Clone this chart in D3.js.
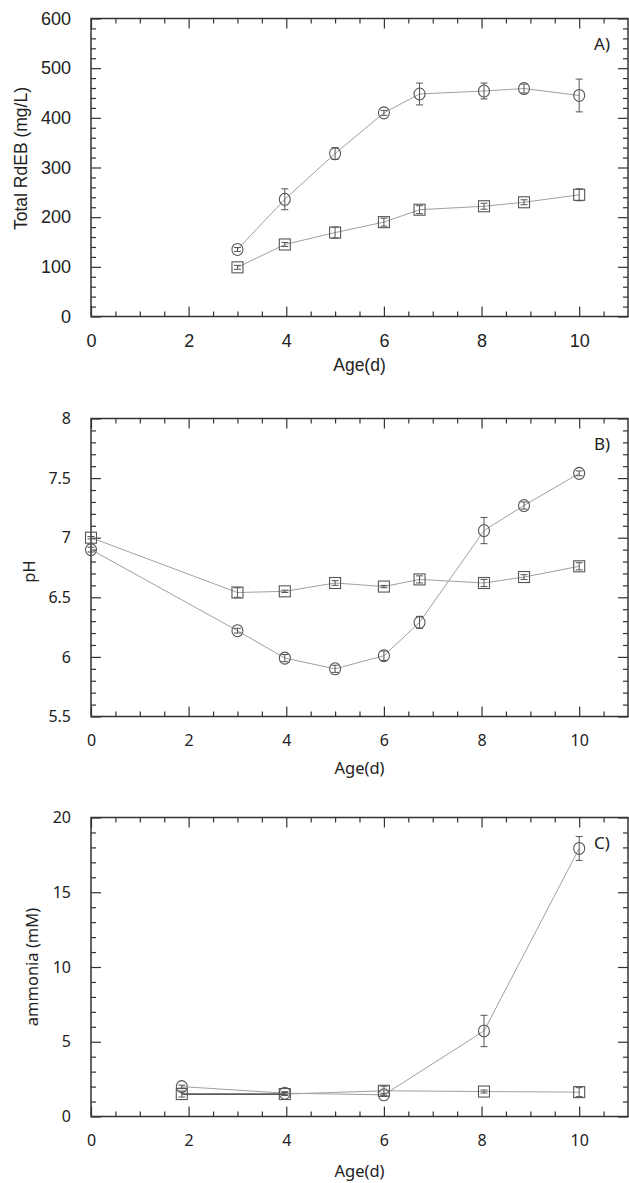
<!DOCTYPE html>
<html>
<head>
<meta charset="utf-8">
<script src="https://cdn.jsdelivr.net/npm/d3@7"></script>
<style>
  html, body { margin: 0; padding: 0; background: #fff; }
  svg { display: block; }
</style>
</head>
<body>
<div id="chart"></div>
<script>
// ---------------- DATA ----------------
// Panel A: Total RdEB (mg/L) vs Age(d)
const agesA = [3, 3.97, 5, 6, 6.73, 8.05, 8.87, 10];
const rdebCircle = [135, 236, 328, 410, 448, 454, 459, 445];
const rdebCircleErr = [4, 21, 12, 5, 22, 16, 9, 33];
const rdebSquare = [99, 145, 169, 190, 215, 222, 230, 245];
const rdebSquareErr = [4, 4, 11, 8, 8, 6, 5, 12];

// Panel B: pH vs Age(d)
const agesB = [0, 3, 3.97, 5, 6, 6.73, 8.05, 8.87, 10];
const phCircle = [6.90, 6.22, 5.99, 5.90, 6.01, 6.29, 7.06, 7.27, 7.54];
const phCircleErr = [0.02, 0.02, 0.03, 0.03, 0.04, 0.05, 0.11, 0.03, 0.02];
const phSquare = [7.00, 6.54, 6.55, 6.62, 6.59, 6.65, 6.62, 6.67, 6.76];
const phSquareErr = [0.01, 0.04, 0.01, 0.02, 0.01, 0.03, 0.03, 0.02, 0.03];

// Panel C: ammonia (mM) vs Age(d)
const agesC = [1.86, 3.97, 6, 8.05, 10];
const nh3Circle = [2.0, 1.56, 1.45, 5.72, 17.93];
const nh3CircleErr = [0.1, 0.1, 0.1, 1.05, 0.8];
const nh3Square = [1.5, 1.5, 1.72, 1.67, 1.63];
const nh3SquareErr = [0.2, 0.1, 0.3, 0.1, 0.3];

// Axes / tick labels
const xMajorTicks = [0, 2, 4, 6, 8, 10];
const yTicksA = [0, 100, 200, 300, 400, 500, 600];
const yTicksB = [5.5, 6, 6.5, 7, 7.5, 8];
const yTicksC = [0, 5, 10, 15, 20];
const panelLetters = ["A)", "B)", "C)"];
const yTitles = ["Total RdEB (mg/L)", "pH", "ammonia (mM)"];
const xTitle = "Age(d)";

// ---------------- LAYOUT ----------------
const W = 629, H = 1183;
const left = 91, right = 628;
const panels = [
  { top: 18.5, bottom: 316.5, yDomain: [0, 600], yMajor: yTicksA, yMinorStep: 20,
    ages: agesA, circ: rdebCircle, circErr: rdebCircleErr, sq: rdebSquare, sqErr: rdebSquareErr,
    font: "'Liberation Sans', Arial, sans-serif", tickFs: 18, titleFs: 17.5,
    yTitleX: 21, yTitleYOff: -9, xTitleOff: 48, darkSquareUntil: null },
  { top: 418.5, bottom: 716.5, yDomain: [5.5, 8], yMajor: yTicksB, yMinorStep: 0.1,
    ages: agesB, circ: phCircle, circErr: phCircleErr, sq: phSquare, sqErr: phSquareErr,
    font: "'Noto Sans', 'Open Sans', sans-serif", tickFs: 16, titleFs: 16.5,
    yTitleX: 28, yTitleYOff: 4, xTitleOff: 51, darkSquareUntil: null },
  { top: 817.5, bottom: 1116.5, yDomain: [0, 20], yMajor: yTicksC, yMinorStep: 1,
    ages: agesC, circ: nh3Circle, circErr: nh3CircleErr, sq: nh3Square, sqErr: nh3SquareErr,
    font: "'Noto Sans', 'Open Sans', sans-serif", tickFs: 16, titleFs: 16.5,
    yTitleX: 31, yTitleYOff: 0, xTitleOff: 54, darkSquareUntil: 4 }
];

const axisColor = "#333";
const markColor = "#555";
const lineColor = "#a0a0a0";

const svg = d3.select("#chart").append("svg")
  .attr("width", W).attr("height", H)
  .attr("viewBox", `0 0 ${W} ${H}`);

function range(a, b, step) {
  const out = [];
  const n = Math.round((b - a) / step);
  for (let i = 0; i <= n; i++) out.push(+(a + i * step).toFixed(6));
  return out;
}

panels.forEach((p, pi) => {
  const g = svg.append("g");
  const x = d3.scaleLinear().domain([0, 11]).range([left, right]);
  const y = d3.scaleLinear().domain(p.yDomain).range([p.bottom, p.top]);

  const xMinor = range(0, 10.5, 0.5).filter(v => !xMajorTicks.includes(v));
  const yMinor = range(p.yDomain[0], p.yDomain[1], p.yMinorStep)
    .filter(v => !p.yMajor.some(m => Math.abs(m - v) < 1e-6));

  function styleAxis(sel, labels) {
    sel.select(".domain").remove();
    sel.selectAll(".tick line").attr("stroke", axisColor).attr("stroke-width", 1.2);
    sel.selectAll(".tick text")
      .attr("fill", "#222")
      .style("font-family", p.font)
      .style("font-size", p.tickFs + "px");
    if (!labels) sel.selectAll(".tick text").remove();
  }

  // bottom axis
  g.append("g").attr("transform", `translate(0,${p.bottom})`)
    .call(d3.axisBottom(x).tickValues(xMajorTicks).tickSize(-10).tickPadding(18).tickFormat(d3.format("d")))
    .call(s => styleAxis(s, true));
  g.append("g").attr("transform", `translate(0,${p.bottom})`)
    .call(d3.axisBottom(x).tickValues(xMinor).tickSize(-5).tickFormat(""))
    .call(s => styleAxis(s, false));
  // top axis
  g.append("g").attr("transform", `translate(0,${p.top})`)
    .call(d3.axisTop(x).tickValues(xMajorTicks).tickSize(-10))
    .call(s => styleAxis(s, false));
  g.append("g").attr("transform", `translate(0,${p.top})`)
    .call(d3.axisTop(x).tickValues(xMinor).tickSize(-5))
    .call(s => styleAxis(s, false));
  // left axis
  const fmt = pi === 1 ? (d => d3.format("")(d)) : d3.format("d");
  g.append("g").attr("transform", `translate(${left},0)`)
    .call(d3.axisLeft(y).tickValues(p.yMajor).tickSize(-10).tickPadding(20).tickFormat(fmt))
    .call(s => styleAxis(s, true));
  g.append("g").attr("transform", `translate(${left},0)`)
    .call(d3.axisLeft(y).tickValues(yMinor).tickSize(-5))
    .call(s => styleAxis(s, false));
  // right axis
  g.append("g").attr("transform", `translate(${right},0)`)
    .call(d3.axisRight(y).tickValues(p.yMajor).tickSize(-10))
    .call(s => styleAxis(s, false));
  g.append("g").attr("transform", `translate(${right},0)`)
    .call(d3.axisRight(y).tickValues(yMinor).tickSize(-5))
    .call(s => styleAxis(s, false));

  // frame
  g.append("rect")
    .attr("x", left).attr("y", p.top)
    .attr("width", right - left).attr("height", p.bottom - p.top)
    .attr("fill", "none").attr("stroke", axisColor).attr("stroke-width", 1.5);

  // data
  const circData = p.ages.map((a, i) => ({ a, v: p.circ[i], e: p.circErr[i] }));
  const sqData = p.ages.map((a, i) => ({ a, v: p.sq[i], e: p.sqErr[i] }));
  const line = d3.line().x(d => x(d.a)).y(d => y(d.v));

  g.append("path").datum(circData).attr("d", line)
    .attr("fill", "none").attr("stroke", lineColor).attr("stroke-width", 1);
  g.append("path").datum(sqData).attr("d", line)
    .attr("fill", "none").attr("stroke", lineColor).attr("stroke-width", 1);
  if (p.darkSquareUntil != null) {
    g.append("path").datum(sqData.filter(d => d.a <= p.darkSquareUntil)).attr("d", line)
      .attr("fill", "none").attr("stroke", "#333").attr("stroke-width", 1.3);
  }

  function errorBars(data) {
    const eg = g.append("g").attr("stroke", markColor).attr("stroke-width", 1);
    eg.selectAll("line.v").data(data).join("line")
      .attr("x1", d => x(d.a)).attr("x2", d => x(d.a))
      .attr("y1", d => y(d.v - d.e)).attr("y2", d => y(d.v + d.e));
    eg.selectAll("line.t").data(data).join("line")
      .attr("x1", d => x(d.a) - 3.5).attr("x2", d => x(d.a) + 3.5)
      .attr("y1", d => y(d.v + d.e)).attr("y2", d => y(d.v + d.e));
    eg.selectAll("line.b").data(data).join("line")
      .attr("x1", d => x(d.a) - 3.5).attr("x2", d => x(d.a) + 3.5)
      .attr("y1", d => y(d.v - d.e)).attr("y2", d => y(d.v - d.e));
  }

  g.append("g").selectAll("rect").data(sqData).join("rect")
    .attr("x", d => x(d.a) - 5.5).attr("y", d => y(d.v) - 5.5)
    .attr("width", 11).attr("height", 11)
    .attr("fill", "none").attr("stroke", markColor).attr("stroke-width", 1.1);
  errorBars(sqData);

  g.append("g").selectAll("ellipse").data(circData).join("ellipse")
    .attr("cx", d => x(d.a)).attr("cy", d => y(d.v))
    .attr("rx", 5.5).attr("ry", 6)
    .attr("fill", "none").attr("stroke", markColor).attr("stroke-width", 1.1);
  errorBars(circData);

  // panel letter
  g.append("text")
    .attr("x", 602).attr("y", (p.top + 25))
    .attr("text-anchor", "middle").attr("dominant-baseline", "central")
    .style("font-family", "'Noto Sans', 'Open Sans', sans-serif")
    .style("font-size", "17px").attr("fill", "#222")
    .text(panelLetters[pi]);

  // titles
  g.append("text")
    .attr("transform", `translate(${p.yTitleX},${(p.top + p.bottom) / 2 + p.yTitleYOff}) rotate(-90)`)
    .attr("text-anchor", "middle").attr("dominant-baseline", "central")
    .style("font-family", p.font).style("font-size", p.titleFs + "px").attr("fill", "#222")
    .text(yTitles[pi]);
  g.append("text")
    .attr("x", (left + right) / 2).attr("y", p.bottom + p.xTitleOff)
    .attr("text-anchor", "middle").attr("dominant-baseline", "central")
    .style("font-family", p.font).style("font-size", p.titleFs + "px").attr("fill", "#222")
    .text(xTitle);
});
</script>
</body>
</html>
